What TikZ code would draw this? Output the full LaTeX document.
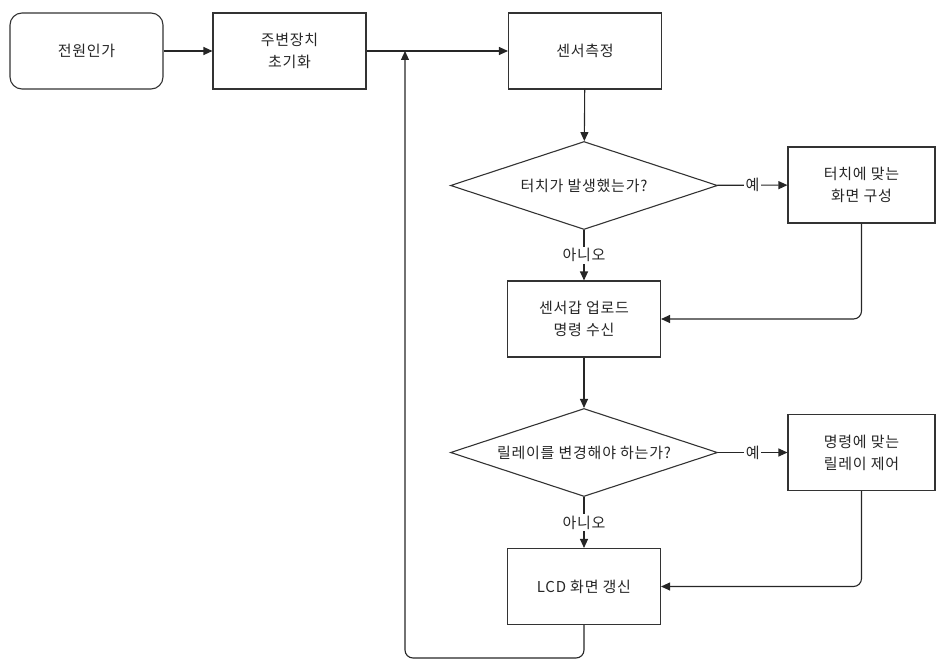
\documentclass[tikz,border=0pt]{standalone}
\usepackage{fontspec}
\setmainfont[LetterSpace=5]{Noto Sans CJK KR}
\usetikzlibrary{arrows.meta,shapes.geometric}
\begin{document}
\begin{tikzpicture}[x=1pt,y=-1pt,
  every node/.style={font=\fontsize{15}{22}\selectfont, text=black!85},
  box/.style={draw=black!80, line width=1.1pt, minimum width=153pt, minimum height=76pt, align=center, inner sep=0pt, fill=white},
  rbox/.style={box, minimum width=147pt},
  startbox/.style={box, rounded corners=12pt},
  decision/.style={draw=black!80, line width=1.1pt, diamond, aspect=3, inner sep=0pt, minimum width=267pt, minimum height=88pt, align=center},
  arr/.style={draw=black!85, line width=1.1pt, -{Triangle[length=9pt,width=8pt]}},
  lab/.style={fill=white, inner sep=1.5pt}
]
\useasboundingbox (0,0) rectangle (936,661);
\node[startbox] (start) at (86.5,51) {전원인가};
\node[box] (init) at (289.5,51) {주변장치\\초기화};
\node[box] (sense) at (585,51) {센서측정};
\node[decision] (d1) at (584,185.5) {터치가 발생했는가?};
\node[rbox] (touch) at (861.5,185) {터치에 맞는\\화면 구성};
\node[box] (upload) at (584,319) {센서갑 업로드\\명령 수신};
\node[decision] (d2) at (584,452.5) {릴레이를 변경해야 하는가?};
\node[rbox] (relay) at (861.5,452.5) {명령에 맞는\\릴레이 제어};
\node[box] (lcd) at (584,586.5) {LCD 화면 갱신};
\coordinate (join) at (405,51);
\coordinate (bottom) at (584,658);

\draw[arr] (start) -- (init);
\draw[arr] (init) -- (sense);
\draw[arr] (sense) -- (d1);
\draw[arr] (d1) -- node[lab] {예} (touch);
\draw[arr] (d1) -- node[lab] {아니오} (upload);
\draw[arr, rounded corners=8pt] (touch.south) |- (upload.east);
\draw[arr] (upload) -- (d2);
\draw[arr] (d2) -- node[lab] {예} (relay);
\draw[arr] (d2) -- node[lab] {아니오} (lcd);
\draw[arr, rounded corners=8pt] (relay.south) |- (lcd.east);
\draw[arr, rounded corners=8pt] (lcd.south) -- (bottom) -| (join);
\end{tikzpicture}
\end{document}
